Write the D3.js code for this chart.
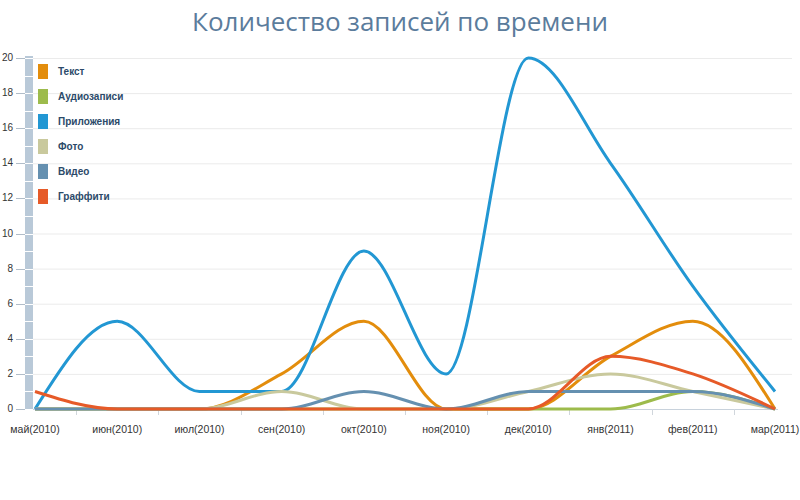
<!DOCTYPE html>
<html>
<head>
<meta charset="utf-8">
<script src="https://cdn.jsdelivr.net/npm/d3@7"></script>
<style>
  body { margin: 0; background: #fff; }
  svg { display: block; }
</style>
</head>
<body>
<div id="chart"></div>
<script>
// chart values
const months = ["май(2010)", "июн(2010)", "июл(2010)", "сен(2010)", "окт(2010)",
                "ноя(2010)", "дек(2010)", "янв(2011)", "фев(2011)", "мар(2011)"];
const seriesNames = ["Текст", "Аудиозаписи", "Приложения", "Фото", "Видео", "Граффити"];
const seriesColors = ["#e38d0c", "#9dbb4c", "#2297d3", "#c9c99d", "#6590b0", "#e65a28"];
const textValues   = [0, 0, 0, 2, 5, 0, 0, 3, 5, 0];
const audioValues  = [0, 0, 0, 0, 0, 0, 0, 0, 1, 0];
const appValues    = [0, 5, 1, 1, 9, 2, 20, 14, 7, 1];
const photoValues  = [0, 0, 0, 1, 0, 0, 1, 2, 1, 0];
const videoValues  = [0, 0, 0, 0, 1, 0, 1, 1, 1, 0];
const graffValues  = [1, 0, 0, 0, 0, 0, 0, 3, 2, 0];
const yTicks = [0, 2, 4, 6, 8, 10, 12, 14, 16, 18, 20];

const allSeries = [textValues, audioValues, appValues, photoValues, videoValues, graffValues];

const width = 800;
const height = 500;

const svg = d3.select("#chart")
              .append("svg")
              .attr("width", width)
              .attr("height", height);

// Title
svg.append("text")
   .attr("x", 400)
   .attr("y", 31)
   .attr("text-anchor", "middle")
   .style("font-family", "'Open Sans', sans-serif")
   .style("font-size", "26px")
   .style("fill", "#5b7c9c")
   .text("Количество записей по времени");

const x = d3.scalePoint()
            .domain(d3.range(months.length))
            .range([35, 775]);

const y = d3.scaleLinear()
            .domain([0, 20])
            .range([409, 58]);

const step = x.step();

// Horizontal grid lines
svg.append("g")
   .selectAll("line")
   .data(yTicks.filter(d => d > 0))
   .enter()
   .append("line")
   .attr("x1", 33)
   .attr("x2", 792)
   .attr("y1", d => y(d) + 0.5)
   .attr("y2", d => y(d) + 0.5)
   .style("stroke", "#ebebeb")
   .style("stroke-width", 1);

// Baseline
svg.append("line")
   .attr("x1", 33)
   .attr("x2", 778)
   .attr("y1", y(0) + 0.5)
   .attr("y2", y(0) + 0.5)
   .style("stroke", "#c8d2dc");

// x ticks between categories
svg.append("g")
   .selectAll("line")
   .data(d3.range(months.length - 1))
   .enter()
   .append("line")
   .attr("x1", d => Math.round(x(d) + step / 2) + 0.5)
   .attr("x2", d => Math.round(x(d) + step / 2) + 0.5)
   .attr("y1", y(0))
   .attr("y2", y(0) + 6)
   .style("stroke", "#d0d6dc");

// x labels
svg.append("g")
   .selectAll("text")
   .data(months)
   .enter()
   .append("text")
   .attr("x", (d, i) => x(i))
   .attr("y", 433)
   .attr("text-anchor", "middle")
   .style("font-family", "'Liberation Sans', Arial, sans-serif")
   .style("font-size", "10.5px")
   .style("fill", "#333")
   .text(d => d);

// y axis band
svg.append("rect")
   .attr("x", 25)
   .attr("y", y(20) - 2)
   .attr("width", 8)
   .attr("height", y(0) - y(20) + 2)
   .style("fill", "#b9c9d8");

svg.append("g")
   .selectAll("line")
   .data(d3.range(1, 21))
   .enter()
   .append("line")
   .attr("x1", 25)
   .attr("x2", 33)
   .attr("y1", d => Math.round(y(d)) + 0.5)
   .attr("y2", d => Math.round(y(d)) + 0.5)
   .style("stroke", "#ffffff");

// y tick marks and labels
svg.append("g")
   .selectAll("line")
   .data(yTicks)
   .enter()
   .append("line")
   .attr("x1", 16)
   .attr("x2", 25)
   .attr("y1", d => Math.round(y(d)) + 0.5)
   .attr("y2", d => Math.round(y(d)) + 0.5)
   .style("stroke", "#b0bcc8");

svg.append("g")
   .selectAll("text")
   .data(yTicks)
   .enter()
   .append("text")
   .attr("x", 13)
   .attr("y", d => y(d) + 3)
   .attr("text-anchor", "end")
   .style("font-family", "'Liberation Sans', Arial, sans-serif")
   .style("font-size", "10px")
   .style("fill", "#333")
   .text(d => d);

// Lines
const line = d3.line()
               .x((d, i) => x(i))
               .y(d => y(d))
               .curve(d3.curveMonotoneX);

svg.append("g")
   .selectAll("path")
   .data(allSeries)
   .enter()
   .append("path")
   .attr("d", line)
   .style("fill", "none")
   .style("stroke", (d, i) => seriesColors[i])
   .style("stroke-width", 3)
   .style("stroke-linejoin", "round");

// Legend
const legendItems = svg.append("g")
                       .selectAll(".legendItem")
                       .data(seriesNames)
                       .enter()
                       .append("g")
                       .attr("class", "legendItem")
                       .attr("transform", (d, i) => `translate(38, ${64 + i * 25})`);

legendItems.append("rect")
           .attr("width", 10)
           .attr("height", 15)
           .style("fill", (d, i) => seriesColors[i]);

legendItems.append("text")
           .attr("x", 20)
           .attr("y", 11)
           .text(d => d)
           .style("font-family", "'Liberation Sans', Arial, sans-serif")
           .style("font-size", "10px")
           .style("font-weight", "bold")
           .style("fill", "#2b4a69");
</script>
</body>
</html>
